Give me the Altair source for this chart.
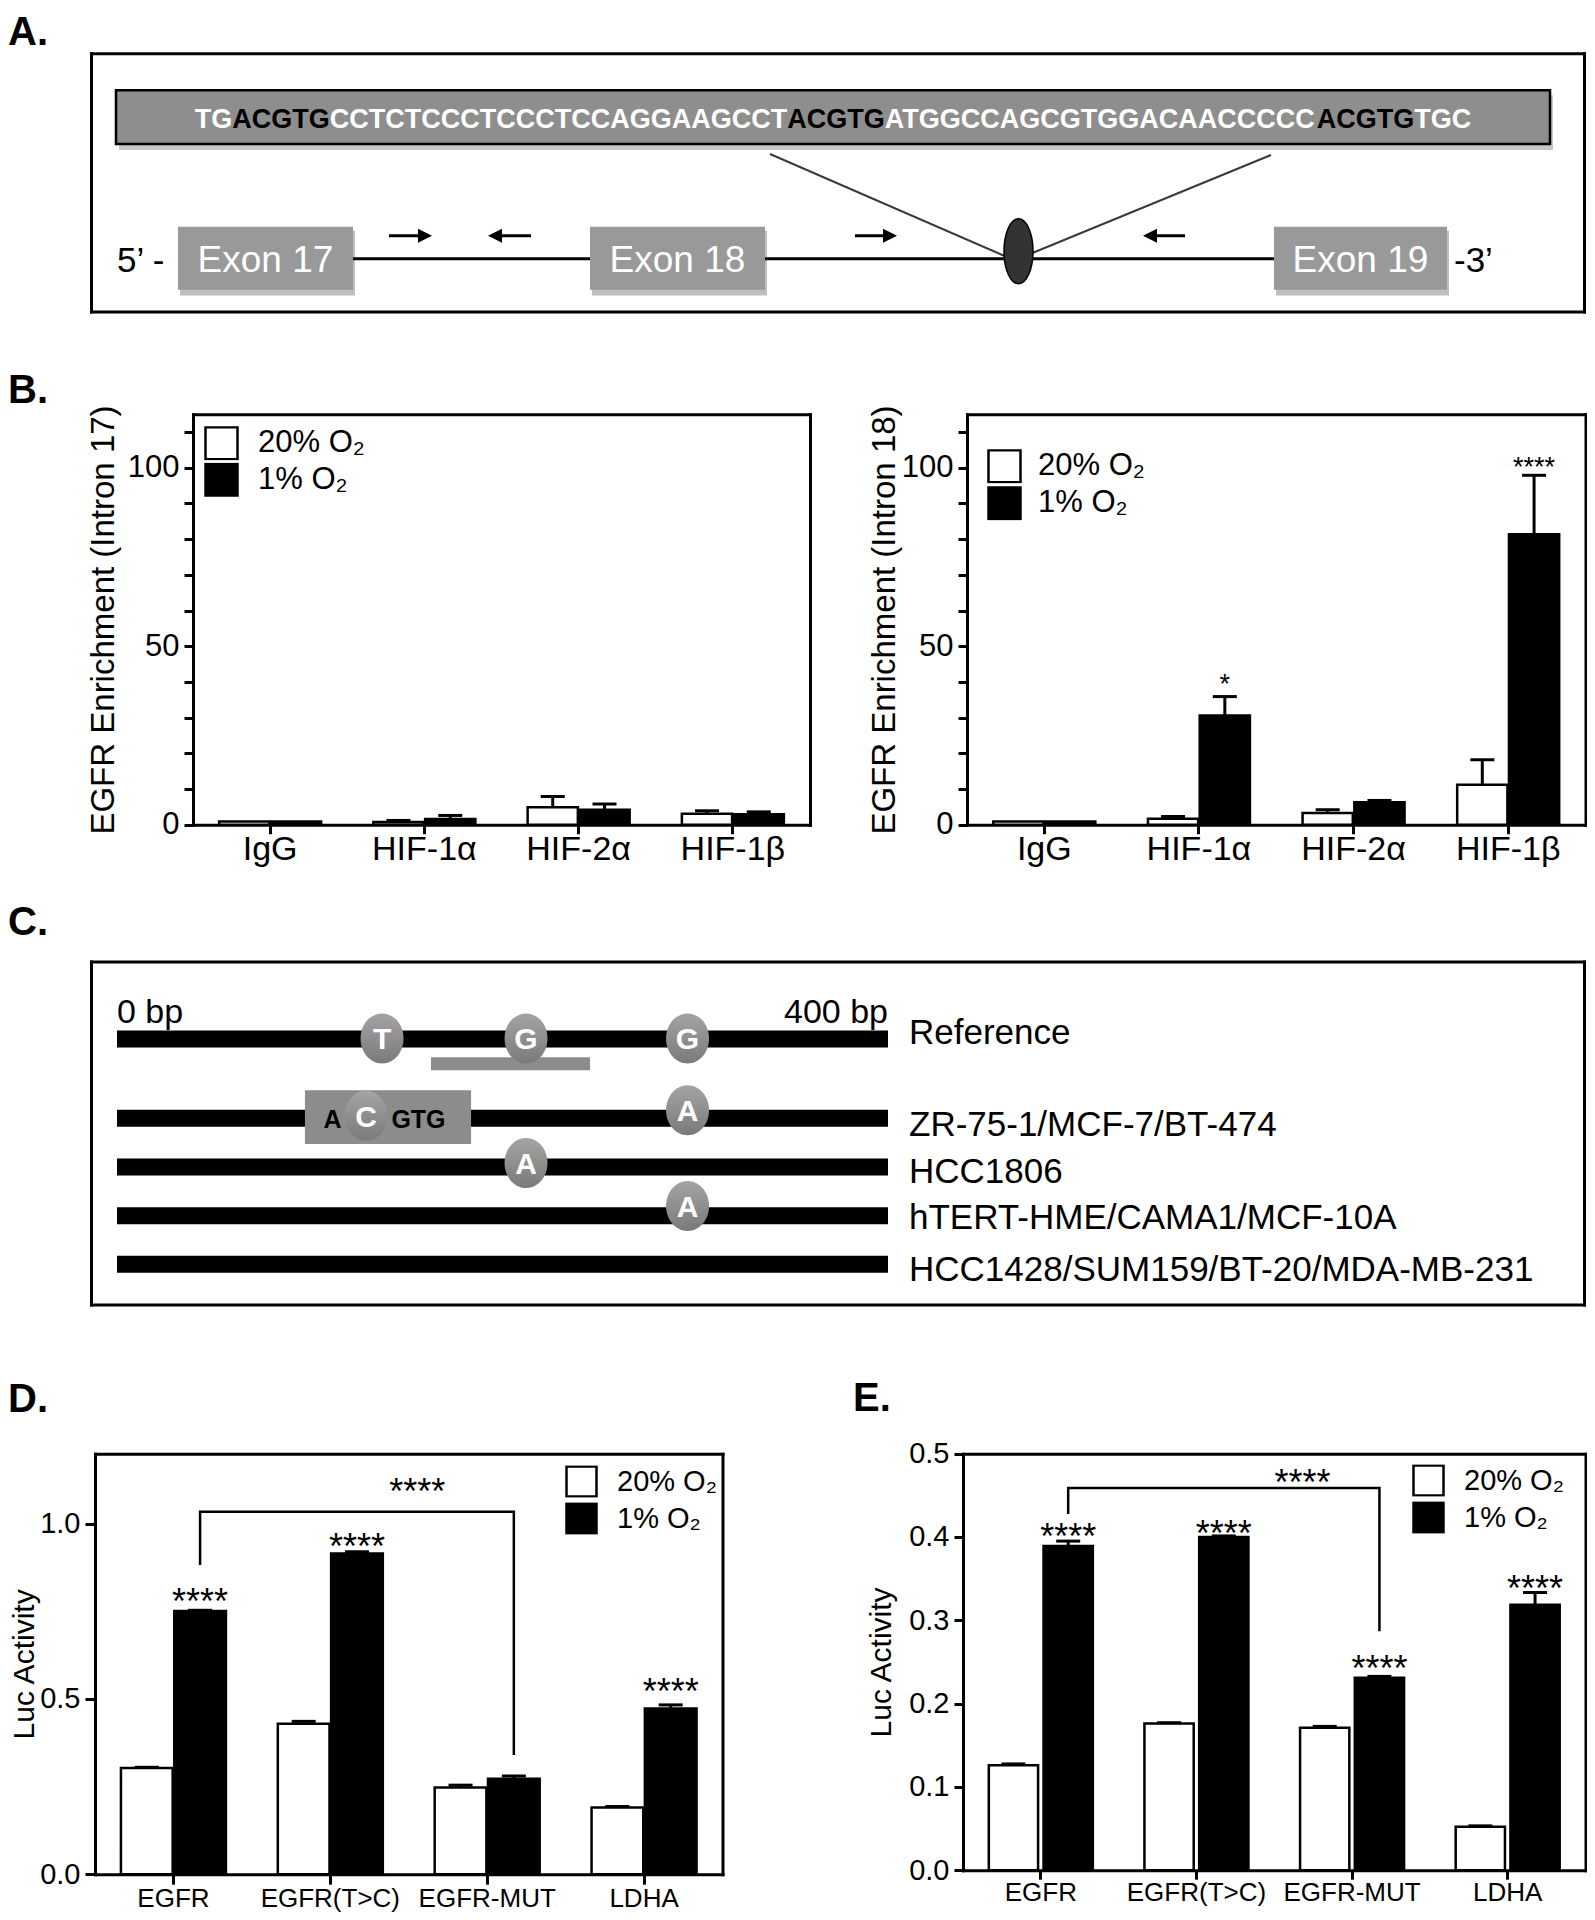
import altair as alt
import pandas as pd

FONT = "Liberation Sans"

# ------------------------------------------------------------------
# Values
# ------------------------------------------------------------------
conditions = ["20% O₂", "1% O₂"]

# Panel B - ChIP enrichment
chip_targets = ["IgG", "HIF-1α", "HIF-2α", "HIF-1β"]
intron17_normoxia = [0.9, 0.75, 4.9, 3.1]
intron17_normoxia_sem = [0.0, 0.45, 3.0, 0.8]
intron17_hypoxia = [0.9, 1.6, 4.2, 2.9]
intron17_hypoxia_sem = [0.0, 1.0, 1.6, 0.7]
intron18_normoxia = [0.9, 1.7, 3.3, 11.2]
intron18_normoxia_sem = [0.0, 0.6, 0.9, 7.0]
intron18_hypoxia = [0.9, 30.6, 6.3, 81.4]
intron18_hypoxia_sem = [0.0, 5.3, 0.5, 16.5]
intron18_sig_targets = ["HIF-1α", "HIF-1β"]
intron18_sig_heights = [41.2, 102.0]
intron18_sig_marks = ["*", "****"]

# Panels D / E - luciferase activity
constructs = ["EGFR", "EGFR(T>C)", "EGFR-MUT", "LDHA"]
d_normoxia = [0.303, 0.429, 0.247, 0.190]
d_normoxia_sem = [0.002, 0.007, 0.007, 0.003]
d_hypoxia = [0.751, 0.915, 0.272, 0.473]
d_hypoxia_sem = [0.002, 0.005, 0.008, 0.010]
d_sig_constructs = ["EGFR", "EGFR(T>C)", "LDHA"]
d_sig_heights = [0.802, 0.959, 0.544]
d_bracket_constructs = ["EGFR", "EGFR", "EGFR-MUT", "EGFR-MUT"]
d_bracket_heights = [0.882, 1.034, 1.034, 0.34]
d_bracket_star_height = 1.116

e_normoxia = [0.126, 0.176, 0.171, 0.052]
e_normoxia_sem = [0.0015, 0.001, 0.0016, 0.0012]
e_hypoxia = [0.389, 0.400, 0.231, 0.3185]
e_hypoxia_sem = [0.006, 0.0012, 0.0016, 0.0148]
e_sig_constructs = ["EGFR", "EGFR(T>C)", "EGFR-MUT", "LDHA"]
e_sig_heights = [0.410, 0.4144, 0.2519, 0.3486]
e_bracket_constructs = ["EGFR", "EGFR", "EGFR-MUT", "EGFR-MUT"]
e_bracket_heights = [0.4276, 0.4588, 0.4588, 0.2868]
e_bracket_star_height = 0.476

# Panel A - gene schematic (schematic units, box relative)
seq_segments = ["TG", "ACGTG", "CCTCTCCCTCCCTCCAGGAAGCCT", "ACGTG",
                "ATGGCCAGCGTGGACAACCCCC", "ACGTG", "TGC"]
seq_is_hre = [False, True, False, True, False, True, False]
exon_names = ["Exon 17", "Exon 18", "Exon 19"]
exon_start = [87, 499, 1183]
exon_end = [262, 674, 1356]
primer_tail = [298, 440, 764, 1094]
primer_tip = [341, 397, 806, 1052]

# Panel C - variant map (bp)
variant_rows = ["Reference", "ZR-75-1/MCF-7/BT-474", "HCC1806",
                "hTERT-HME/CAMA1/MCF-10A", "HCC1428/SUM159/BT-20/MDA-MB-231"]
variant_track_y = [77.5, 157, 206, 255, 303.5]
variant_label_y = [70, 162, 209, 255, 307]
snp_base = ["T", "G", "G", "C", "A", "A", "A"]
snp_bp = [137.5, 212.2, 296, 129.2, 296, 212.2, 296]
snp_y = [77, 77, 77, 154.5, 149, 202, 245]
amplicon_bp = [162.9, 245.4]
hre_box_bp = [97.5, 183.7]
hre_box_text = ["A", "GTG"]
hre_box_text_bp = [111.8, 156.4]

# ------------------------------------------------------------------
# Layout helpers (reference pixels -> chart pixels)
# ------------------------------------------------------------------
W_CH, H_CH = 1579, 1904
ONE = pd.DataFrame({"k": [0]})


def PX(v):
    return round(v - 11, 2)


def PY(v):
    return round(0.997 * v - 6.5, 2)


def frame_axes(x_left, x_right, y_top, y_bottom):
    """Four domain-only axes that draw a panel frame."""
    common = dict(ticks=False, labels=False, title=None, grid=False, domain=True)
    return dict(
        bottom=alt.Axis(orient="bottom", offset=PY(y_bottom) - H_CH, **common),
        top=alt.Axis(orient="top", offset=-PY(y_top), **common),
        left=alt.Axis(orient="left", offset=-PX(x_left), **common),
        right=alt.Axis(orient="right", offset=PX(x_right) - W_CH, **common),
    )


def panel_label(text, x, baseline_y):
    return alt.Chart(ONE).mark_text(text=text, fontSize=40, fontWeight="bold", align="left",
                                    baseline="alphabetic", color="black").encode(
        x=alt.value(max(PX(x), 0)), y=alt.value(PY(baseline_y)))


def ellipse_path(a):
    k = 0.5523
    return (f"M0,-1 C{k*a:.4f},-1 {a:.4f},{-k:.4f} {a:.4f},0 C{a:.4f},{k:.4f} {k*a:.4f},1 0,1 "
            f"C{-k*a:.4f},1 {-a:.4f},{k:.4f} {-a:.4f},0 C{-a:.4f},{-k:.4f} {-k*a:.4f},-1 0,-1 Z")


# ------------------------------------------------------------------
# Bar chart panels
# ------------------------------------------------------------------
def bar_panel(cats, v20, s20, v1, s1, *, frame, ymax, yvalues, yfmt, ytitle,
              ylab_fs, ytitle_fs, ytitle_pad, xlab_fs, xlab_pad, tick_size,
              pair_px, off_inner, legend, label_expr=None,
              sig=None, star_fs=27, bracket=None, bracket_star=None):
    xl, xr, yt, yz = frame
    n = len(cats)
    df = pd.DataFrame({"cat": cats * 2,
                       "cond": [conditions[0]] * n + [conditions[1]] * n,
                       "val": v20 + v1, "sem": s20 + s1})
    df["tip"] = df["val"] + df["sem"]
    step = (xr - xl) / n
    p = 1 - pair_px / step
    xscale = alt.Scale(domain=cats, range=[PX(xl), PX(xr)], paddingInner=p, paddingOuter=p / 2)
    yscale = alt.Scale(domain=[0, ymax], range=[PY(yz), PY(yt)], nice=False, zero=True)
    fr = frame_axes(xl, xr, yt, yz)
    xaxis = alt.Axis(orient="bottom", offset=PY(yz) - H_CH, title=None, labelAngle=0,
                     labelFontSize=xlab_fs, labelPadding=xlab_pad, tickSize=tick_size,
                     labelLimit=400, grid=False)
    ykw = dict(orient="left", offset=-PX(xl), values=yvalues, format=yfmt, title=ytitle,
               titleFontSize=ytitle_fs, titlePadding=ytitle_pad, labelFontSize=ylab_fs,
               tickSize=tick_size, labelPadding=5, grid=False)
    if label_expr:
        ykw["labelExpr"] = label_expr
    yaxis = alt.Axis(**ykw)

    def X(axis=None, **kw):
        return alt.X("cat:N", scale=xscale, axis=axis, **kw)

    def Y(f, axis=None):
        return alt.Y(f, scale=yscale, axis=axis, stack=None)

    xo = alt.XOffset("cond:N", sort=conditions,
                     scale=alt.Scale(paddingInner=off_inner, paddingOuter=0))
    fill = alt.Fill("cond:N", sort=conditions,
                    scale=alt.Scale(domain=conditions, range=["white", "black"]),
                    legend=alt.Legend(orient="none", title=None, symbolType="square",
                                      symbolStrokeColor="black", symbolStrokeWidth=2.5,
                                      symbolOpacity=1, padding=0, labelLimit=400,
                                      legendX=PX(legend["x"]), legendY=PY(legend["y"]),
                                      symbolSize=legend["size"], labelFontSize=legend["fs"],
                                      clipHeight=legend["clip"], rowPadding=legend["row"],
                                      labelOffset=legend["off"]))
    layers = [alt.Chart(df).mark_bar(stroke="black", strokeWidth=2.5, opacity=1).encode(
        x=X(xaxis), xOffset=xo, y=Y("val:Q", yaxis), fill=fill)]
    err = df[df["sem"] > 0]
    layers.append(alt.Chart(err).mark_rule(color="black", strokeWidth=3, opacity=1).encode(
        x=X(), xOffset=xo, y=Y("val:Q"), y2="tip:Q"))
    layers.append(alt.Chart(err).mark_tick(color="black", thickness=3, size=24, opacity=1).encode(
        x=X(fr["top"]), xOffset=xo, y=Y("tip:Q", fr["right"])))
    if sig is not None:
        sdf = pd.DataFrame({"cat": sig[0], "cond": conditions[1], "sy": sig[1], "mark": sig[2]})
        layers.append(alt.Chart(sdf).mark_text(fontSize=star_fs, dy=0.58 * star_fs,
                                               baseline="alphabetic", color="black").encode(
            x=X(), xOffset=xo, y=Y("sy:Q"), text="mark:N"))
    if bracket is not None:
        step_o = 1 / (2 - off_inner)
        bpos = step_o * (1 + (1 - off_inner) / 2)
        bdf = pd.DataFrame({"cat": bracket[0], "by": bracket[1],
                            "o": list(range(len(bracket[0])))})
        layers.append(alt.Chart(bdf).mark_line(color="black", strokeWidth=2.5).encode(
            x=X(bandPosition=bpos), y=Y("by:Q"), order="o:Q"))
        sdf2 = pd.DataFrame({"cat": [bracket_star[0]], "sy": [bracket_star[1]], "mark": ["****"]})
        layers.append(alt.Chart(sdf2).mark_text(fontSize=star_fs, dy=0.58 * star_fs,
                                                dx=bracket_star[2], baseline="alphabetic",
                                                color="black").encode(
            x=X(), y=Y("sy:Q"), text="mark:N"))
    return alt.layer(*layers)


B1 = bar_panel(chip_targets, intron17_normoxia, intron17_normoxia_sem, intron17_hypoxia,
               intron17_hypoxia_sem, frame=(196, 813, 414, 825.7), ymax=115,
               yvalues=list(range(0, 111, 10)), yfmt="d",
               label_expr="datum.value % 50 === 0 ? datum.label : ''",
               ytitle="EGFR Enrichment (Intron 17)", ylab_fs=31, ytitle_fs=33, ytitle_pad=7,
               xlab_fs=34, xlab_pad=-1, tick_size=9, pair_px=102, off_inner=0.03,
               legend=dict(x=207, y=426, size=1024, fs=31, clip=34, row=2.5, off=19))

B2 = bar_panel(chip_targets, intron18_normoxia, intron18_normoxia_sem, intron18_hypoxia,
               intron18_hypoxia_sem, frame=(970, 1588.5, 414, 825.7), ymax=115,
               yvalues=list(range(0, 111, 10)), yfmt="d",
               label_expr="datum.value % 50 === 0 ? datum.label : ''",
               ytitle="EGFR Enrichment (Intron 18)", ylab_fs=31, ytitle_fs=33, ytitle_pad=0,
               xlab_fs=34, xlab_pad=-1, tick_size=9, pair_px=102, off_inner=0.03,
               legend=dict(x=990, y=449, size=1024, fs=31, clip=34, row=3, off=16),
               sig=(intron18_sig_targets, intron18_sig_heights, intron18_sig_marks), star_fs=27)

D = bar_panel(constructs, d_normoxia, d_normoxia_sem, d_hypoxia, d_hypoxia_sem,
              frame=(98, 725.5, 1456.5, 1878.3), ymax=1.2, yvalues=[0, 0.5, 1.0], yfmt=".1f",
              ytitle="Luc Activity", ylab_fs=29, ytitle_fs=30, ytitle_pad=0,
              xlab_fs=26, xlab_pad=1, tick_size=10, pair_px=105, off_inner=0.03,
              legend=dict(x=568, y=1468.5, size=900, fs=29, clip=32, row=5, off=19),
              sig=(d_sig_constructs, d_sig_heights, ["****"] * len(d_sig_constructs)), star_fs=36,
              bracket=(d_bracket_constructs, d_bracket_heights),
              bracket_star=("EGFR(T>C)", d_bracket_star_height, 87))

E = bar_panel(constructs, e_normoxia, e_normoxia_sem, e_hypoxia, e_hypoxia_sem,
              frame=(966, 1588.5, 1456.5, 1874.3), ymax=0.5,
              yvalues=[0, 0.1, 0.2, 0.3, 0.4, 0.5], yfmt=".1f",
              ytitle="Luc Activity", ylab_fs=29, ytitle_fs=30, ytitle_pad=12,
              xlab_fs=26, xlab_pad=0, tick_size=9, pair_px=104, off_inner=0.1,
              legend=dict(x=1415, y=1467.5, size=900, fs=29, clip=32, row=5, off=19),
              sig=(e_sig_constructs, e_sig_heights, ["****"] * len(e_sig_constructs)), star_fs=36,
              bracket=(e_bracket_constructs, e_bracket_heights),
              bracket_star=("EGFR(T>C)", e_bracket_star_height, 106))

# ------------------------------------------------------------------
# Panel A - schematic (units = reference pixels relative to the box)
# ------------------------------------------------------------------
A_BOX = (94, 1587, 52, 311)
a_xs = alt.Scale(domain=[0, A_BOX[1] - A_BOX[0]], range=[PX(A_BOX[0]), PX(A_BOX[1])],
                 nice=False, zero=False)
a_ys = alt.Scale(domain=[0, A_BOX[3] - A_BOX[2]], range=[PY(A_BOX[2]), PY(A_BOX[3])],
                 nice=False, zero=False)
a_fr = frame_axes(*A_BOX)


def ax(f, axis=None):
    return alt.X(f, scale=a_xs, axis=axis)


def ay(f, axis=None):
    return alt.Y(f, scale=a_ys, axis=axis)


BOLD_ADV = {"A": 0.722, "C": 0.722, "G": 0.778, "T": 0.611}
SEQ_FS = 27
seq_px = [sum(BOLD_ADV[c] for c in s) * SEQ_FS for s in seq_segments]
cur = 742 - sum(seq_px) / 2
seq_x = []
for w in seq_px:
    seq_x.append(cur)
    cur += w
seq_df = pd.DataFrame({"seg": seq_segments, "x": seq_x, "y": 65,
                       "col": ["black" if h else "white" for h in seq_is_hre]})

bar_df = pd.DataFrame({"x0": [25], "x1": [1459], "y0": [37], "y1": [91]})
bar_sh = pd.DataFrame({"x0": [28], "x1": [1462], "y0": [42], "y1": [97]})
exon_df = pd.DataFrame({"name": exon_names, "x0": exon_start, "x1": exon_end,
                        "y0": 174, "y1": 237})
exon_df["xc"] = (exon_df["x0"] + exon_df["x1"]) / 2
exon_df["yc"] = 206
exon_sh = pd.DataFrame({"x0": [s + 2 for s in exon_start], "x1": [e + 2 for e in exon_end],
                        "y0": 178, "y1": 243})
zoom_df = pd.DataFrame({"x0": [679, 1180], "y0": [101, 102], "x1": [913, 942], "y1": [203, 200]})
intron_df = pd.DataFrame({"x0": [exon_end[0]], "x1": [exon_start[2]], "y0": [206]})
dirs = [1 if tp > tl else -1 for tl, tp in zip(primer_tail, primer_tip)]
arrow_df = pd.DataFrame({
    "x0": primer_tail,
    "x1": [tp - d * 7 for tp, d in zip(primer_tip, dirs)],
    "y": 183,
    "shape": ["M-1,-1 L1,0 L-1,1 Z" if d > 0 else "M1,-1 L-1,0 L1,1 Z" for d in dirs],
})
ell_df = pd.DataFrame({"x": [927.5], "y": [198.5]})
end_df = pd.DataFrame({"t": ["5’ -", "-3’"], "x": [26, 1363], "y": [206, 206]})

panelA = alt.layer(
    alt.Chart(bar_sh).mark_rect(color="black", opacity=0.22).encode(
        x=ax("x0:Q", a_fr["bottom"]), x2="x1:Q", y=ay("y0:Q", a_fr["left"]), y2="y1:Q"),
    alt.Chart(bar_df).mark_rect(color="#8e8e8e", stroke="black", strokeWidth=2.5).encode(
        x=ax("x0:Q", a_fr["top"]), x2="x1:Q", y=ay("y0:Q", a_fr["right"]), y2="y1:Q"),
    alt.Chart(seq_df).mark_text(fontSize=SEQ_FS, fontWeight="bold", align="left",
                                baseline="middle", dy=2).encode(
        x=ax("x:Q"), y=ay("y:Q"), text="seg:N", color=alt.Color("col:N", scale=None)),
    alt.Chart(zoom_df).mark_rule(color="#3a3a3a", strokeWidth=2).encode(
        x=ax("x0:Q"), x2="x1:Q", y=ay("y0:Q"), y2="y1:Q"),
    alt.Chart(intron_df).mark_rule(color="black", strokeWidth=3).encode(
        x=ax("x0:Q"), x2="x1:Q", y=ay("y0:Q")),
    alt.Chart(exon_sh).mark_rect(color="black", opacity=0.25).encode(
        x=ax("x0:Q"), x2="x1:Q", y=ay("y0:Q"), y2="y1:Q"),
    alt.Chart(exon_df).mark_rect(color="#999999").encode(
        x=ax("x0:Q"), x2="x1:Q", y=ay("y0:Q"), y2="y1:Q"),
    alt.Chart(exon_df).mark_text(fontSize=37, color="white", baseline="middle", dy=2).encode(
        x=ax("xc:Q"), y=ay("yc:Q"), text="name:N"),
    alt.Chart(ell_df).mark_point(shape=ellipse_path(0.446), size=4225, filled=True,
                                 fill="#333333", stroke="black", strokeWidth=1.5, opacity=1).encode(
        x=ax("x:Q"), y=ay("y:Q")),
    alt.Chart(arrow_df).mark_rule(color="black", strokeWidth=3).encode(
        x=ax("x0:Q"), x2="x1:Q", y=ay("y:Q")),
    alt.Chart(arrow_df).mark_point(size=196, filled=True, color="black", opacity=1).encode(
        x=ax("x1:Q"), y=ay("y:Q"), shape=alt.Shape("shape:N", scale=None)),
    alt.Chart(end_df).mark_text(fontSize=35, color="black", align="left", baseline="middle",
                                dy=2).encode(x=ax("x:Q"), y=ay("y:Q"), text="t:N"),
)

# ------------------------------------------------------------------
# Panel C - variant map (x in bp)
# ------------------------------------------------------------------
C_BOX = (94, 1587, 963, 1307)
BP_PX = (891 - 120) / 400.0
c_xs = alt.Scale(domain=[(C_BOX[0] - 120) / BP_PX, (C_BOX[1] - 120) / BP_PX],
                 range=[PX(C_BOX[0]), PX(C_BOX[1])], nice=False, zero=False)
c_ys = alt.Scale(domain=[0, C_BOX[3] - C_BOX[2]], range=[PY(C_BOX[2]), PY(C_BOX[3])],
                 nice=False, zero=False)
c_fr = frame_axes(*C_BOX)


def cx(f, axis=None):
    return alt.X(f, scale=c_xs, axis=axis)


def cy(f, axis=None):
    return alt.Y(f, scale=c_ys, axis=axis)


track_df = pd.DataFrame({"row": variant_rows, "y": variant_track_y, "x0": 0, "x1": 400,
                         "ly": variant_label_y, "lx": 410.9})
amp_df = pd.DataFrame({"x0": [amplicon_bp[0]], "x1": [amplicon_bp[1]], "y0": [96], "y1": [109]})
hre_df = pd.DataFrame({"x0": [hre_box_bp[0]], "x1": [hre_box_bp[1]], "y0": [129], "y1": [183]})
hre_txt = pd.DataFrame({"t": hre_box_text, "x": hre_box_text_bp, "y": 157})
snp_df = pd.DataFrame({"base": snp_base, "x": snp_bp, "y": snp_y})
bp_df = pd.DataFrame({"t": ["0 bp", "400 bp"], "x": [0, 400], "y": 50})
grad = alt.LinearGradient(gradient="linear", x1=0, x2=0, y1=0, y2=1,
                          stops=[alt.GradientStop(color="#a4a4a4", offset=0),
                                 alt.GradientStop(color="#7a7a7a", offset=1)])

panelC = alt.layer(
    alt.Chart(track_df).mark_rule(color="black", strokeWidth=17, strokeCap="butt").encode(
        x=cx("x0:Q", c_fr["bottom"]), x2="x1:Q", y=cy("y:Q", c_fr["left"])),
    alt.Chart(amp_df).mark_rect(color="#8c8c8c").encode(
        x=cx("x0:Q", c_fr["top"]), x2="x1:Q", y=cy("y0:Q", c_fr["right"]), y2="y1:Q"),
    alt.Chart(hre_df).mark_rect(color="#8c8c8c").encode(
        x=cx("x0:Q"), x2="x1:Q", y=cy("y0:Q"), y2="y1:Q"),
    alt.Chart(hre_txt).mark_text(fontSize=25, fontWeight="bold", color="black",
                                 baseline="middle", dy=2).encode(
        x=cx("x:Q"), y=cy("y:Q"), text="t:N"),
    alt.Chart(snp_df).mark_point(shape=ellipse_path(0.86), size=2500, filled=True, fill=grad,
                                 strokeWidth=0, opacity=1).encode(x=cx("x:Q"), y=cy("y:Q")),
    alt.Chart(snp_df).mark_text(fontSize=30, fontWeight="bold", color="white",
                                baseline="middle", dy=2).encode(
        x=cx("x:Q"), y=cy("y:Q"), text="base:N"),
    alt.Chart(bp_df.iloc[[0]]).mark_text(fontSize=34, align="left", baseline="middle", dy=2).encode(
        x=cx("x:Q"), y=cy("y:Q"), text="t:N"),
    alt.Chart(bp_df.iloc[[1]]).mark_text(fontSize=34, align="right", baseline="middle", dy=2).encode(
        x=cx("x:Q"), y=cy("y:Q"), text="t:N"),
    alt.Chart(track_df).mark_text(fontSize=35, align="left", baseline="middle", dy=2).encode(
        x=cx("lx:Q"), y=cy("ly:Q"), text="row:N"),
)

# ------------------------------------------------------------------
# Assemble everything in one view with independent scales per panel
# ------------------------------------------------------------------
chart = alt.layer(
    panelA, B1, B2, panelC, D, E,
    panel_label("A.", 0, 43.5), panel_label("B.", 0, 403), panel_label("C.", 0, 936),
    panel_label("D.", 0, 1415), panel_label("E.", 856, 1414),
).resolve_scale(
    x="independent", y="independent", fill="independent", xOffset="independent"
).resolve_axis(
    x="independent", y="independent"
).resolve_legend(
    fill="independent"
).properties(
    width=W_CH, height=H_CH, padding=0, autosize=alt.AutoSizeParams(type="none")
)

chart = (chart.configure(font=FONT)
         .configure_view(stroke=None)
         .configure_axis(labelFont=FONT, titleFont=FONT, labelColor="black", titleColor="black",
                         domainColor="black", tickColor="black", domainWidth=3, tickWidth=3,
                         domainCap="square", grid=False, titleFontWeight="normal")
         .configure_legend(labelFont=FONT, labelColor="black"))

chart.save("out.html", embed_options={"renderer": "svg", "actions": False})
